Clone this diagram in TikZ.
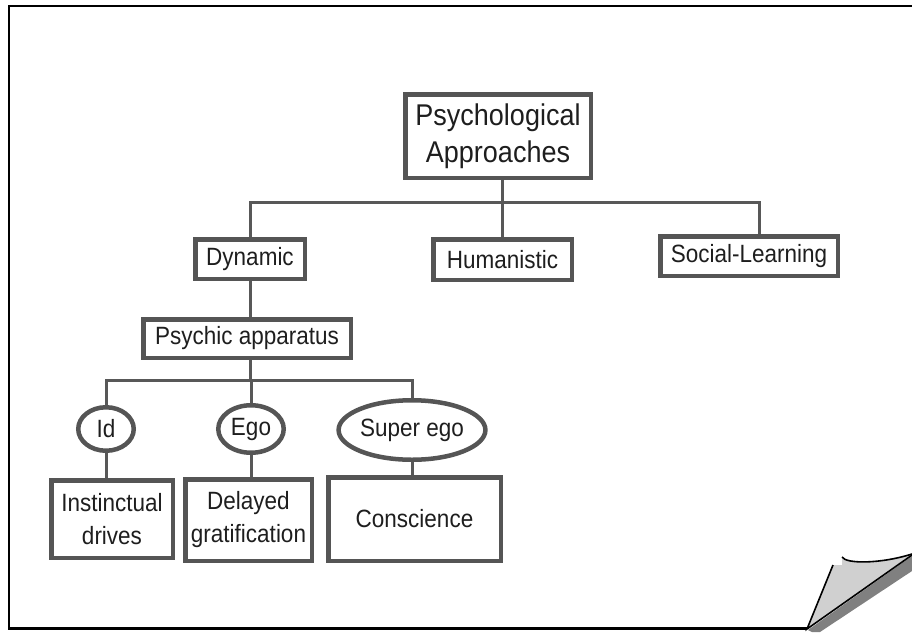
\documentclass[tikz,border=0pt]{standalone}
\usepackage{fontspec}
\setmainfont{Liberation Sans}[FakeStretch=0.9]
\usetikzlibrary{shapes.geometric}
\definecolor{boxgray}{HTML}{555555}
\definecolor{linegray}{HTML}{585858}
\definecolor{txt}{HTML}{1E1E1E}
\definecolor{curlfill}{HTML}{D0D0D0}
\definecolor{curlshadow}{HTML}{808080}
\tikzset{
  stepbox/.style={draw=boxgray, line width=4.5pt, inner sep=0pt, align=center,
    text=txt, font=\fontsize{25}{33}\selectfont},
  titlebox/.style={stepbox, font=\fontsize{30}{36.5}\selectfont},
  oval/.style={ellipse, draw=boxgray, line width=4.5pt, inner sep=0pt, align=center,
    text=txt, font=\fontsize{25}{33}\selectfont},
  conn/.style={draw=linegray, line width=3pt},
  frame/.style={draw=black, line width=2.5pt},
}
\begin{document}
\begin{tikzpicture}[x=1pt, y=-1pt]
\useasboundingbox (0,0) rectangle (912,632);
% frame
\draw[frame] (912,6) -- (9,6) -- (9,628.5) -- (807,628.5);
% page curl
\fill[curlshadow] (808,630) -- (912,556) -- (912,571) -- (820,632) -- (812,632) -- cycle;
\fill[curlfill] (807,629) -- (833,565) -- (842,565) -- (842,557)
  .. controls (846,564) and (880,564) .. (912,554) -- cycle;
\draw[black, line width=1.6pt] (833,565) -- (807,629) -- (912,555);
\draw[black, line width=1.6pt] (842,557) .. controls (846,564) and (880,564) .. (912,554);

% nodes
\node[titlebox, minimum width=185.5pt, minimum height=83.5pt] (title) at (498,136) {Psychological\\Approaches};
\node[stepbox, minimum width=109.5pt, minimum height=39.5pt] (dyn) at (250,259) {Dynamic};
\node[stepbox, minimum width=138.5pt, minimum height=40.5pt] (hum) at (502.5,259.5) {Humanistic};
\node[stepbox, minimum width=177.5pt, minimum height=39.5pt] (soc) at (749,256) {Social-Learning};
\node[stepbox, minimum width=207.5pt, minimum height=38.5pt] (psy) at (247,338.5) {Psychic apparatus};
\node[oval, minimum width=55.5pt, minimum height=43.5pt] (id) at (106,429) {Id};
\node[oval, minimum width=65.5pt, minimum height=47.5pt] (ego) at (251,429) {Ego};
\node[oval, minimum width=145.5pt, minimum height=59.5pt] (sup) at (412,430) {Super ego};
\node[stepbox, minimum width=121.5pt, minimum height=77.5pt] (inst) at (112,519) {Instinctual\\drives};
\node[stepbox, minimum width=126.5pt, minimum height=81.5pt] (del) at (248.5,520) {Delayed\\gratification};
\node[stepbox, minimum width=172.5pt, minimum height=83.5pt] (con) at (414.5,519) {Conscience};

% connectors
\coordinate (bus1) at (0,202);
\coordinate (bus2) at (0,380);
\coordinate (socj) at (759,202);
\draw[conn] (title.south -| hum.north) -- (hum.north);
\draw[conn] (dyn.north) -- (dyn.north |- bus1) -- (socj) -- (socj |- soc.north);
\draw[conn] (dyn.south) -- (dyn.south |- psy.north);
\draw[conn] (psy.south -| dyn.south) -- (dyn.south |- bus2);
\draw[conn] (id.north) -- (id.north |- bus2) -- (sup.north |- bus2) -- (sup.north);
\draw[conn] (ego.north) -- (ego.north |- bus2);
\draw[conn] (id.south) -- (id.south |- inst.north);
\draw[conn] (ego.south) -- (ego.south |- del.north);
\draw[conn] (sup.south) -- (sup.south |- con.north);
\end{tikzpicture}
\end{document}
